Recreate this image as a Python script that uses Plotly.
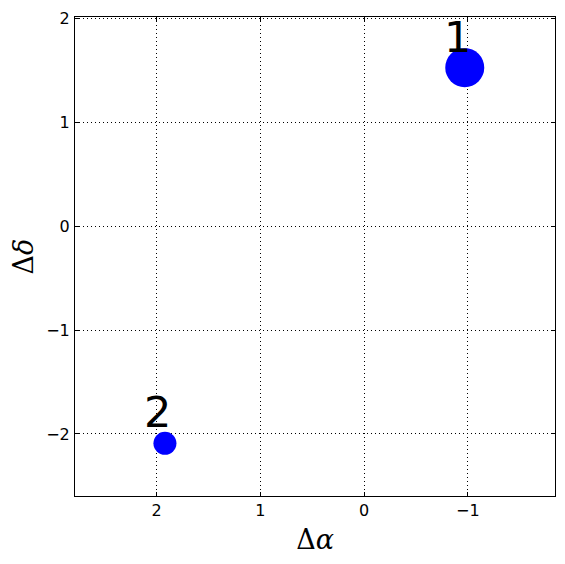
import plotly.graph_objects as go

# Data
labels = ["1", "2"]
d_alpha = [-0.97, 1.92]
d_delta = [1.53, -2.09]
sizes = [39, 23]

x_ticks = [2, 1, 0, -1]
y_ticks = [2, 1, 0, -1, -2]

fig = go.Figure()
fig.add_trace(go.Scatter(
    x=d_alpha, y=d_delta, mode="markers",
    marker=dict(color="#0000ff", size=sizes, opacity=1, line=dict(width=0)),
    hoverinfo="skip", showlegend=False,
))

for lab, xv, yv in zip(labels, d_alpha, d_delta):
    fig.add_annotation(
        x=xv, y=yv, text=lab, showarrow=False,
        xshift=-7, yshift=31,
        font=dict(family="DejaVu Sans", size=43, color="black"),
    )

axis_common = dict(
    showline=True, linecolor="black", linewidth=1, mirror="allticks",
    ticks="inside", ticklen=4, tickcolor="black", tickwidth=1,
    showgrid=True, gridcolor="black", gridwidth=0.6, griddash="1px,3px",
    zeroline=False, automargin=False,
    tickfont=dict(family="DejaVu Sans", size=16, color="black"),
)

fig.update_xaxes(
    range=[2.787, -1.84], tickvals=x_ticks,
    ticktext=[str(v).replace("-", "\u2212") for v in x_ticks],
    title=dict(text="\u0394<i>\u03b1</i>", font=dict(family="DejaVu Serif", size=27, color="black"), standoff=10),
    ticklabelstandoff=0,
    **axis_common,
)
fig.update_yaxes(
    range=[-2.598, 2.018], tickvals=y_ticks,
    ticktext=[str(v).replace("-", "\u2212") for v in y_ticks],
    title=dict(text="\u0394<i>\u03b4</i>", font=dict(family="DejaVu Serif", size=27, color="black"), standoff=12),
    ticklabelstandoff=1,
    **axis_common,
)

fig.update_layout(
    width=557, height=556,
    margin=dict(l=67, r=10, t=9, b=68),
    plot_bgcolor="white", paper_bgcolor="white",
)

fig.write_html("out.html")
